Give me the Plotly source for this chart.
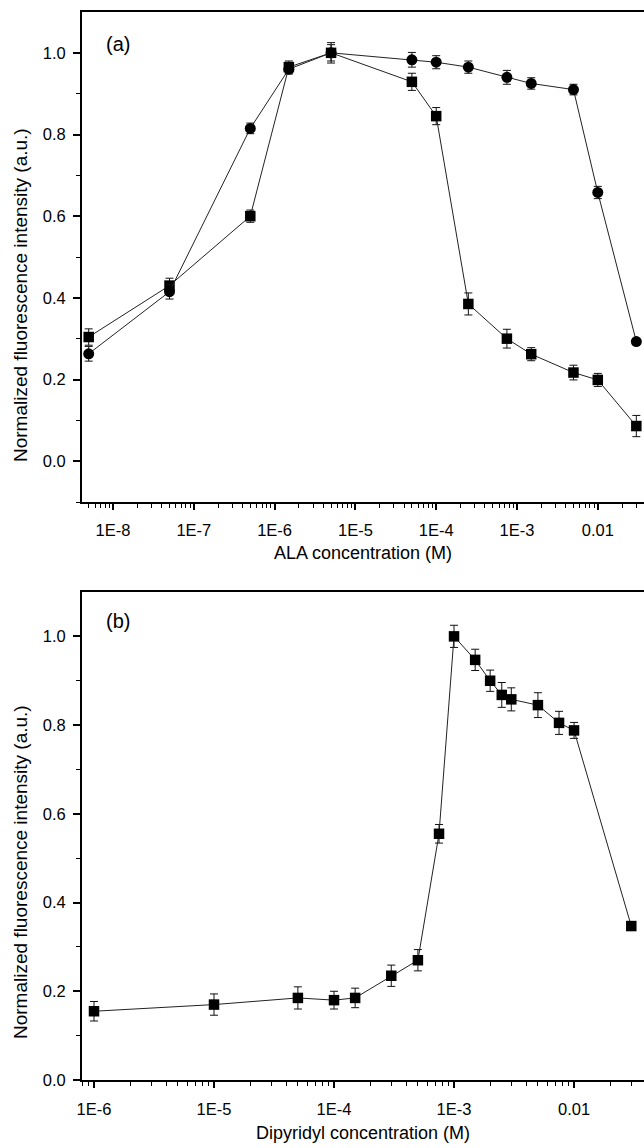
import plotly.graph_objects as go

# ---------------- data ----------------
ala_conc = [5e-9, 5e-8, 5e-7, 1.5e-6, 5e-6, 5e-5, 1e-4, 2.5e-4, 7.5e-4, 1.5e-3, 5e-3, 1e-2, 3e-2]
ala_square = [0.304, 0.43, 0.60, 0.965, 1.0, 0.929, 0.845, 0.385, 0.30, 0.262, 0.217, 0.199, 0.086]
ala_square_err = [0.02, 0.018, 0.015, 0.015, 0.025, 0.021, 0.021, 0.027, 0.023, 0.016, 0.018, 0.016, 0.026]
ala_circle = [0.263, 0.415, 0.815, 0.96, 1.0, 0.983, 0.977, 0.965, 0.94, 0.925, 0.91, 0.658, 0.293]
ala_circle_err = [0.018, 0.018, 0.013, 0.012, 0.02, 0.018, 0.016, 0.015, 0.017, 0.014, 0.013, 0.015, 0.006]

dip_conc = [1e-6, 1e-5, 5e-5, 1e-4, 1.5e-4, 3e-4, 5e-4, 7.5e-4, 1e-3, 1.5e-3, 2e-3, 2.5e-3, 3e-3, 5e-3, 7.5e-3, 1e-2, 3e-2]
dip_square = [0.155, 0.17, 0.185, 0.18, 0.185, 0.235, 0.27, 0.555, 1.0, 0.947, 0.9, 0.868, 0.858, 0.845, 0.805, 0.788, 0.347]
dip_square_err = [0.022, 0.024, 0.025, 0.02, 0.022, 0.024, 0.024, 0.021, 0.025, 0.024, 0.024, 0.028, 0.026, 0.028, 0.026, 0.018, 0.01]

ala_tickvals = [1e-8, 1e-7, 1e-6, 1e-5, 1e-4, 1e-3, 1e-2]
ala_ticktext = ["1E-8", "1E-7", "1E-6", "1E-5", "1E-4", "1E-3", "0.01"]
dip_tickvals = [1e-6, 1e-5, 1e-4, 1e-3, 1e-2]
dip_ticktext = ["1E-6", "1E-5", "1E-4", "1E-3", "0.01"]
y_tickvals = [0.0, 0.2, 0.4, 0.6, 0.8, 1.0]
y_ticktext = ["0.0", "0.2", "0.4", "0.6", "0.8", "1.0"]

Y_TITLE = "Normalized fluorescence intensity (a.u.)"

FONT = "Liberation Sans, Arial, sans-serif"
W, H = 644, 1148
ML, MR, MT, MB = 82, 0, 12, 68
plot_h = H - MT - MB
TICK_SIZE = 16.5
TITLE_SIZE = 18


def minor_vals(lo_exp, hi_exp):
    return [m * 10.0 ** e for e in range(lo_exp, hi_exp + 1) for m in range(2, 10)]


fig = go.Figure()

line_style = dict(color="#222222", width=1)


def err_style(arr):
    return dict(type="data", array=arr, visible=True, color="#111111", thickness=1, width=4)


fig.add_trace(go.Scatter(x=ala_conc, y=ala_square, mode="lines+markers",
                         line=line_style, marker=dict(symbol="square", size=10.5, color="black"),
                         error_y=err_style(ala_square_err), xaxis="x", yaxis="y", showlegend=False))
fig.add_trace(go.Scatter(x=ala_conc, y=ala_circle, mode="lines+markers",
                         line=line_style, marker=dict(symbol="circle", size=11, color="black"),
                         error_y=err_style(ala_circle_err), xaxis="x", yaxis="y", showlegend=False))
fig.add_trace(go.Scatter(x=dip_conc, y=dip_square, mode="lines+markers",
                         line=line_style, marker=dict(symbol="square", size=10.5, color="black"),
                         error_y=err_style(dip_square_err), xaxis="x2", yaxis="y2", showlegend=False))


def py(px):
    return (H - MB - px) / plot_h


axis_common = dict(showline=True, linecolor="black", linewidth=2, ticks="outside",
                   tickcolor="black", tickwidth=1.5, showgrid=False, zeroline=False,
                   tickfont=dict(family=FONT, size=TICK_SIZE, color="black"))

x_title_font = dict(family=FONT, size=TITLE_SIZE)

fig.update_layout(
    width=W, height=H,
    margin=dict(l=ML, r=MR, t=MT, b=MB),
    paper_bgcolor="white", plot_bgcolor="white",
    font=dict(family=FONT, color="black"),
    xaxis=dict(type="log", range=[-8.384, -1.428], domain=[0, 1], anchor="y",
               tickmode="array", tickvals=ala_tickvals, ticktext=ala_ticktext, ticklen=6,
               ticklabelstandoff=6, mirror=True,
               minor=dict(tickmode="array", tickvals=minor_vals(-9, -2), ticks="outside",
                          ticklen=3.5, tickwidth=1.2, tickcolor="black"),
               title=dict(text="ALA concentration (M)", font=x_title_font, standoff=9),
               **axis_common),
    yaxis=dict(range=[-0.1, 1.1], domain=[py(502), 1.0], anchor="x",
               tickmode="array", tickvals=y_tickvals, ticktext=y_ticktext, ticklen=7,
               ticklabelstandoff=4,
               minor=dict(tickmode="array", tickvals=[-0.1, 0.1, 0.3, 0.5, 0.7, 0.9], ticks="outside",
                          ticklen=4, tickwidth=1.2, tickcolor="black"),
               **axis_common),
    xaxis2=dict(type="log", range=[-6.1, -1.417], domain=[0, 1], anchor="y2",
                tickmode="array", tickvals=dip_tickvals, ticktext=dip_ticktext, ticklen=6,
                ticklabelstandoff=7, mirror=True,
                minor=dict(tickmode="array", tickvals=minor_vals(-7, -2), ticks="outside",
                           ticklen=3.5, tickwidth=1.2, tickcolor="black"),
                title=dict(text="Dipyridyl concentration (M)", font=x_title_font, standoff=10),
                **axis_common),
    yaxis2=dict(range=[0, 1.1], domain=[0, py(592)], anchor="x2",
                tickmode="array", tickvals=y_tickvals, ticktext=y_ticktext, ticklen=7,
                ticklabelstandoff=4,
                minor=dict(tickmode="array", tickvals=[0.1, 0.3, 0.5, 0.7, 0.9], ticks="outside",
                           ticklen=4, tickwidth=1.2, tickcolor="black"),
                **axis_common),
    annotations=[
        dict(text="(a)", xref="x domain", yref="y domain", x=0.04, y=0.935, xanchor="left", yanchor="middle",
             showarrow=False, font=dict(family=FONT, size=20, color="black")),
        dict(text="(b)", xref="x2 domain", yref="y2 domain", x=0.04, y=0.94, xanchor="left", yanchor="middle",
             showarrow=False, font=dict(family=FONT, size=20, color="black")),
        dict(text=Y_TITLE, textangle=-90, xref="paper", yref="paper", x=0, y=py(295),
             xanchor="center", yanchor="middle", xshift=20 - ML, showarrow=False,
             font=dict(family=FONT, size=19, color="black")),
        dict(text=Y_TITLE, textangle=-90, xref="paper", yref="paper", x=0, y=py(872),
             xanchor="center", yanchor="middle", xshift=20 - ML, showarrow=False,
             font=dict(family=FONT, size=19, color="black")),
    ],
)

fig.write_html("out.html")
